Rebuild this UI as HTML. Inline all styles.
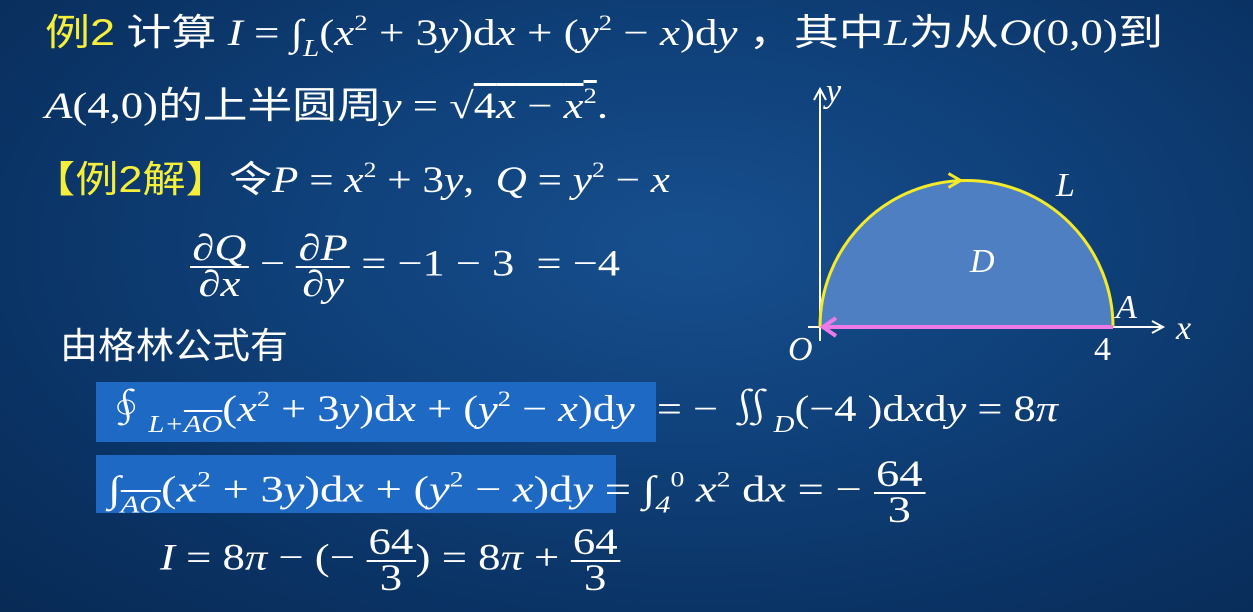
<!DOCTYPE html>
<html><head><meta charset="utf-8">
<style>
body{margin:0;width:1253px;height:612px;overflow:hidden;}
#slide{position:relative;width:1253px;height:612px;overflow:hidden;
background:radial-gradient(ellipse at 55% 40%,#174f8e 0%,#0f4079 40%,#0a3263 75%,#082a55 100%);
font-family:"Liberation Serif","Noto Serif CJK SC",serif;color:#fff;}
.t{position:absolute;white-space:nowrap;font-size:37px;line-height:40px;transform-origin:left center;}
.cjk{font-family:"Liberation Sans","Noto Sans CJK SC",sans-serif;}
i{font-style:italic;}
sup{font-size:22px;vertical-align:15px;line-height:0;}
sub{font-size:24px;vertical-align:-11px;line-height:0;font-style:italic;}
.y{color:#f5ef3a;}
.frac{display:inline-block;vertical-align:middle;text-align:center;line-height:34px;}
.frac span{display:block;}
.frac .num{border-bottom:2px solid #fff;padding:0 2px;}
.box{position:absolute;background:#1d69c4;}
.ov{text-decoration:overline;}
</style></head><body>
<div id="slide">
<div class="box" style="left:96px;top:382px;width:560px;height:60px"></div>
<div class="box" style="left:96px;top:455px;width:520px;height:58px"></div>

<div class="t" data-w="1118" style="left:45px;top:13px">
<span class="cjk y">例2</span> <span class="cjk">计算</span> <i>I</i> = ∫<sub>L</sub>(<i>x</i><sup>2</sup> + 3<i>y</i>)d<i>x</i> + (<i>y</i><sup>2</sup> − <i>x</i>)d<i>y</i> <span class="cjk">，其中</span><i>L</i><span class="cjk">为从</span><i>O</i>(0,0)<span class="cjk">到</span></div>
<div class="t" data-w="563" style="left:45px;top:86px">
<i>A</i>(4,0)<span class="cjk">的上半圆周</span><i>y</i> = √<span style="text-decoration:overline">4<i>x</i> − <i>x</i><sup>2</sup></span>.</div>

<div class="t" data-w="638" style="left:32px;top:160px">
<span class="cjk y">【例2解】</span><span class="cjk">令</span><i>P</i> = <i>x</i><sup>2</sup> + 3<i>y</i>,&nbsp; <i>Q</i> = <i>y</i><sup>2</sup> − <i>x</i></div>

<div class="t" data-w="430" style="left:190px;top:232px">
<span class="frac"><span class="num">∂<i>Q</i></span><span>∂<i>x</i></span></span> − <span class="frac"><span class="num">∂<i>P</i></span><span>∂<i>y</i></span></span> = −1 − 3 &nbsp;= −4</div>

<div class="t cjk" data-w="228" style="left:60px;top:326px;font-size:36px">由格林公式有</div>

<div class="t" data-w="954" style="left:104px;top:390px">
∮<sub>L+<span class="ov">AO</span></sub>(<i>x</i><sup>2</sup> + 3<i>y</i>)d<i>x</i> + (<i>y</i><sup>2</sup> − <i>x</i>)d<i>y</i> &nbsp;= − ∬<sub>D</sub>(−4 )d<i>x</i>d<i>y</i> = 8<i>π</i></div>

<div class="t" data-w="817" style="left:108px;top:458px">
∫<sub><span class="ov">AO</span></sub>(<i>x</i><sup>2</sup> + 3<i>y</i>)d<i>x</i> + (<i>y</i><sup>2</sup> − <i>x</i>)d<i>y</i> = ∫<sub>4</sub><sup>0</sup> <i>x</i><sup>2</sup> d<i>x</i> = − <span class="frac"><span class="num">64</span><span>3</span></span></div>

<div class="t" data-w="460" style="left:160px;top:526px">
<i>I</i> = 8<i>π</i> − (− <span class="frac"><span class="num">64</span><span>3</span></span>) = 8<i>π</i> + <span class="frac"><span class="num">64</span><span>3</span></span></div>

<svg id="diagram" width="1253" height="612" style="position:absolute;left:0;top:0">
</svg>
</div>
<script>
document.querySelectorAll('.t[data-w]').forEach(e=>{
  const w=e.getBoundingClientRect().width;
  const target=+e.getAttribute('data-w');
  if(w>0)e.style.transform='scaleX('+(target/w)+')';
});
const xRange=[0,4];
const center=[2,0];
const radius=[2];
const labels=["O","4","A","L","D","x","y"];
const svg=document.getElementById('diagram');
const NS='http://www.w3.org/2000/svg';
const ox=820, oy=327, unit=73.25;
const sx=v=>ox+v*unit, sy=v=>oy-v*unit;
function el(t,a){const e=document.createElementNS(NS,t);for(const k in a)e.setAttribute(k,a[k]);svg.appendChild(e);return e;}
const r=radius[0]*unit, cx=sx(center[0]);
const reg=el('path',{d:`M${sx(xRange[0])},${sy(0)} A${r},${r} 0 0 1 ${sx(xRange[1])},${sy(0)} Z`,fill:'#4e7fc2'});


const xa=el('line',{x1:ox-12,y1:oy,x2:1162,y2:oy,stroke:'#fff','stroke-width':2});


el('path',{d:`M1152,${oy-6} L1163,${oy} L1152,${oy+6}`,fill:'none',stroke:'#fff','stroke-width':2});
const ya=el('line',{x1:ox,y1:oy+14,x2:ox,y2:90,stroke:'#fff','stroke-width':2});


el('path',{d:`M${ox-6},100 L${ox},89 L${ox+6},100`,fill:'none',stroke:'#fff','stroke-width':2});
const arc=el('path',{d:`M${sx(xRange[0])},${sy(0)} A${r},${r} 0 0 1 ${sx(xRange[1])},${sy(0)}`,fill:'none',stroke:'#f3ea2a','stroke-width':3});


const arcTop=sy(radius[0]);
el('path',{d:`M${cx-18},${arcTop-7} L${cx-6},${arcTop} L${cx-18},${arcTop+7}`,fill:'none',stroke:'#f3ea2a','stroke-width':3});
const seg=el('line',{x1:sx(xRange[1]),y1:oy,x2:ox+4,y2:oy,stroke:'#ee7ae8','stroke-width':4});


el('path',{d:`M${ox+16},${oy-9} L${ox+3},${oy} L${ox+16},${oy+9}`,fill:'none',stroke:'#ee7ae8','stroke-width':4});
const pos=[[788,360],[1094,360],[1116,318],[1056,196],[970,272],[1176,339],[826,102]];
labels.forEach((s,i)=>{
 const t=el('text',{x:pos[i][0],y:pos[i][1],fill:'#fff','font-size':34,'font-family':'Liberation Serif, serif','font-style':s==='4'?'normal':'italic'});
 t.textContent=s;
 
 
});
</script>
</body></html>
